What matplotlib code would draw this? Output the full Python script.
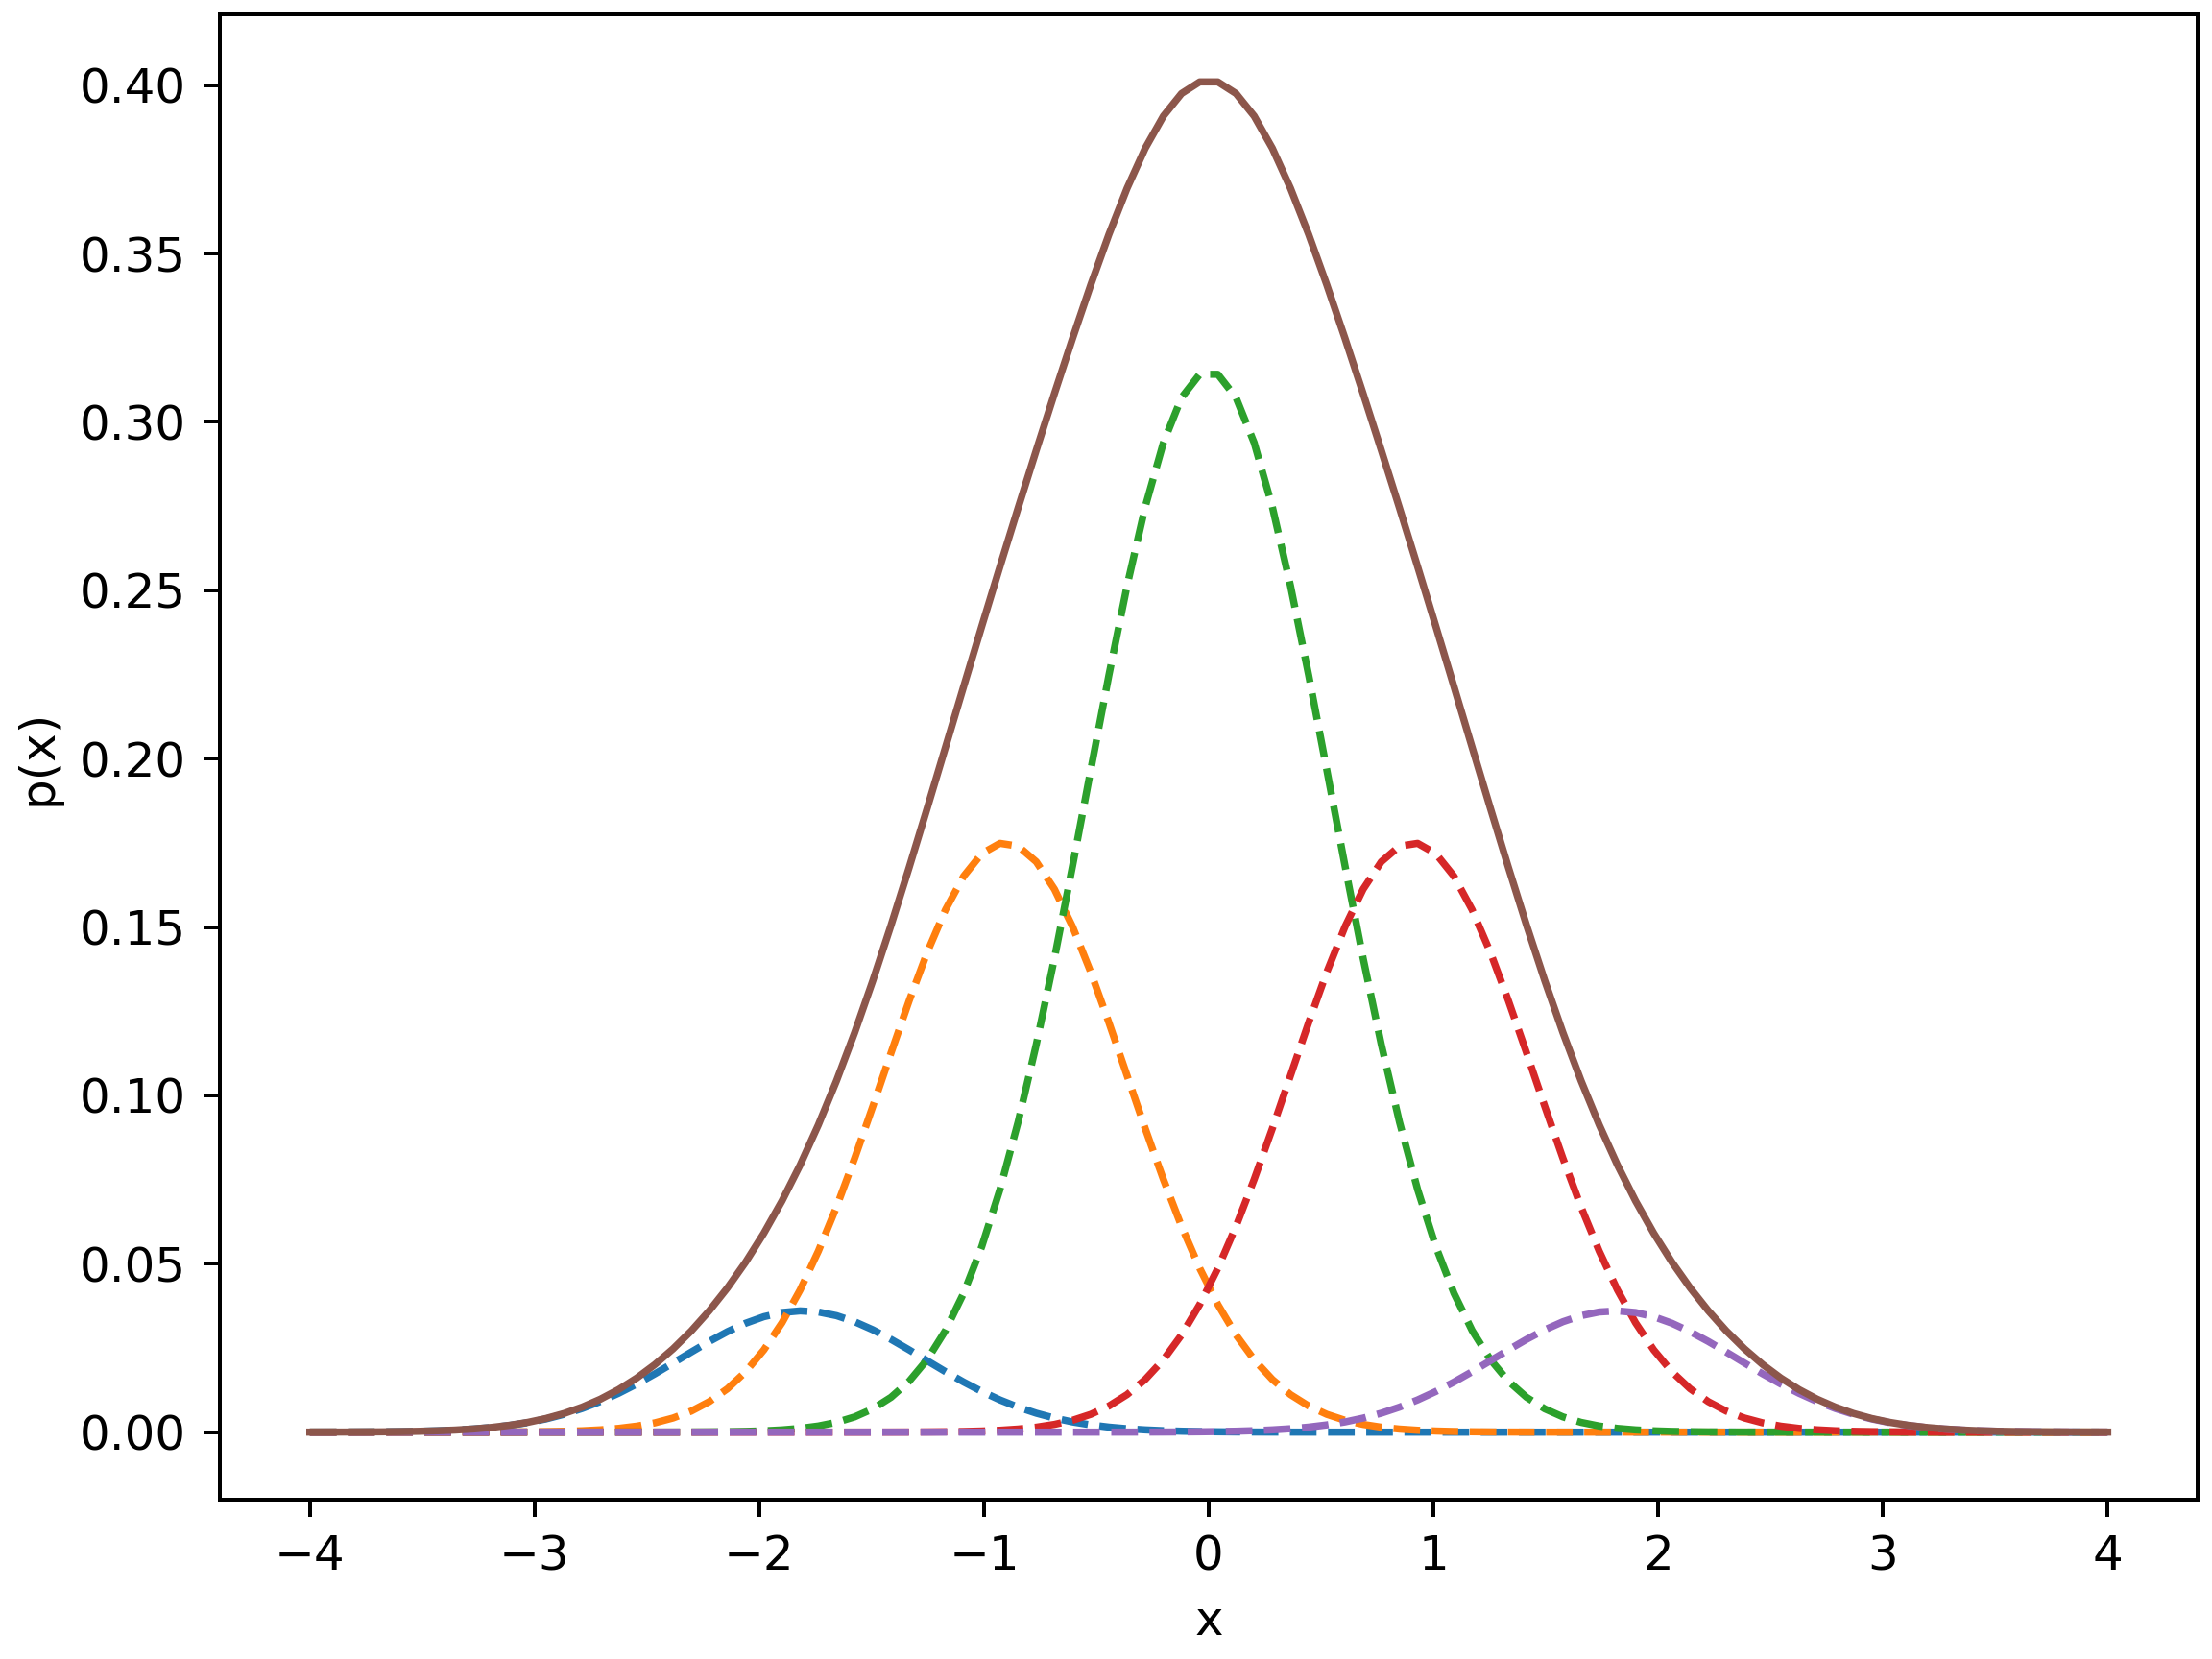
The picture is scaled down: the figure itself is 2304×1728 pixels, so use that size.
import numpy as np
import matplotlib.pyplot as plt

# component parameters
means = [-1.81, -0.906, 0.0, 0.906, 1.81]
peaks = [0.036, 0.175, 0.315, 0.175, 0.036]
sigma = 0.541

x = np.linspace(-4, 4, 100)

fig, ax = plt.subplots(figsize=(6.4, 4.8), dpi=360)
total = np.zeros_like(x)
for m, p in zip(means, peaks):
    y = p * np.exp(-(x - m) ** 2 / (2 * sigma ** 2))
    total += y
    ax.plot(x, y, '--')
ax.plot(x, total, '-')
ax.set_xlabel('x')
ax.set_ylabel('p(x)')
fig.tight_layout(pad=0.3)
fig.savefig('out.png')
